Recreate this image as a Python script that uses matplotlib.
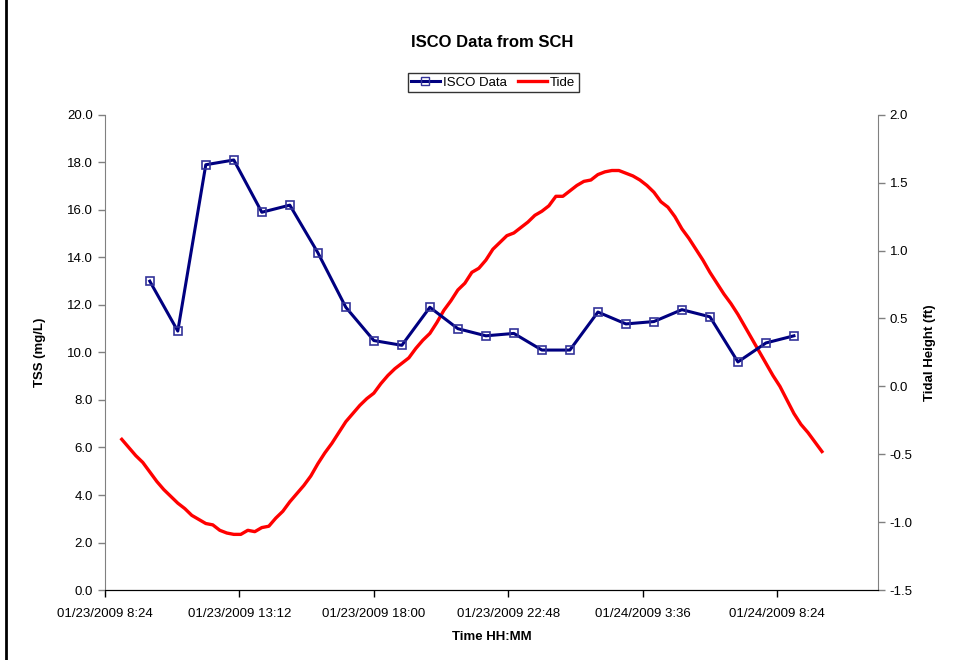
import numpy as np
import pandas as pd
import matplotlib
matplotlib.use("Agg")
import matplotlib.pyplot as plt
from matplotlib.lines import Line2D

plt.rcParams['font.family'] = ['Liberation Sans', 'DejaVu Sans']

# ISCO samples, hourly from 01/23/2009 10:00
isco_times = pd.date_range("2009-01-23 10:00", periods=24, freq="h")
isco_tss = [13.0, 10.9, 17.9, 18.1, 15.9, 16.2, 14.2, 11.9, 10.5, 10.3, 11.9, 11.0,
            10.7, 10.8, 10.1, 10.1, 11.7, 11.2, 11.3, 11.8, 11.5, 9.6, 10.4, 10.7]

# tide, every 15 min from 01/23/2009 9:00
tide_times = pd.date_range("2009-01-23 09:00", periods=101, freq="15min")
tide_ft = [-0.39, -0.45, -0.51, -0.56, -0.63, -0.70, -0.76, -0.81, -0.86, -0.90,
           -0.95, -0.98, -1.01, -1.02, -1.06, -1.08, -1.09, -1.09, -1.06, -1.07,
           -1.04, -1.03, -0.97, -0.92, -0.85, -0.79, -0.73, -0.66, -0.57, -0.49,
           -0.42, -0.34, -0.26, -0.20, -0.14, -0.09, -0.05, 0.02, 0.08, 0.13,
           0.17, 0.21, 0.28, 0.34, 0.39, 0.47, 0.56, 0.63, 0.71, 0.76,
           0.84, 0.87, 0.93, 1.01, 1.06, 1.11, 1.13, 1.17, 1.21, 1.26,
           1.29, 1.33, 1.40, 1.40, 1.44, 1.48, 1.51, 1.52, 1.56, 1.58,
           1.59, 1.59, 1.57, 1.55, 1.52, 1.48, 1.43, 1.36, 1.32, 1.25,
           1.16, 1.09, 1.01, 0.93, 0.84, 0.76, 0.68, 0.61, 0.53, 0.44,
           0.35, 0.26, 0.17, 0.08, 0.00, -0.10, -0.20, -0.28, -0.34, -0.41,
           -0.48]

xticks = pd.date_range("2009-01-23 08:24", periods=6, freq="288min")

fig = plt.figure(figsize=(9.63, 6.6), dpi=100)
ax = fig.add_axes([0.109, 0.106, 0.8027, 0.72])
ax2 = ax.twinx()

ax.plot(isco_times, isco_tss, color='#000080', lw=2.2, marker='s', ms=6,
        mfc='none', mec='#333399', mew=1.2, zorder=3)
ax2.plot(tide_times, tide_ft, color='#ff0000', lw=2.4)

ax.set_zorder(ax2.get_zorder() + 1)
ax.patch.set_visible(False)

ax.set_xlim(pd.Timestamp("2009-01-23 08:24"), pd.Timestamp("2009-01-24 12:00"))
ax.set_ylim(0, 20)
ax2.set_ylim(-1.5, 2.0)
ax.set_yticks(np.arange(0, 20.1, 2))
ax.yaxis.set_major_formatter(matplotlib.ticker.FormatStrFormatter('%.1f'))
ax2.set_yticks(np.arange(-1.5, 2.01, 0.5))
ax2.yaxis.set_major_formatter(matplotlib.ticker.FormatStrFormatter('%.1f'))
ax.set_xticks(xticks)
ax.set_xticklabels([t.strftime("%m/%d/%Y ") + str(t.hour) + t.strftime(":%M") for t in xticks])

for a in (ax, ax2):
    a.spines['top'].set_visible(False)
    a.spines['left'].set_color('#808080')
    a.spines['right'].set_color('#808080')
    a.spines['bottom'].set_color('black')
    a.tick_params(labelsize=9.5, length=5, width=1, colors='black')
ax.spines['right'].set_visible(False)
ax2.spines['left'].set_visible(False)
ax.tick_params(axis='y', color='#808080')
ax2.tick_params(axis='y', color='#808080')
ax.tick_params(axis='x', pad=8)

ax.set_ylabel("TSS (mg/L)", fontsize=9.5, fontweight='bold', labelpad=15)
ax2.set_ylabel("Tidal Height (ft)", fontsize=9.5, fontweight='bold', labelpad=8)
ax.set_xlabel("Time HH:MM", fontsize=9.5, fontweight='bold', labelpad=8)
fig.text(0.511, 0.936, "ISCO Data from SCH", ha='center', va='center',
         fontsize=12, fontweight='bold')

handles = [Line2D([], [], color='#000080', lw=2.2, marker='s', ms=6, mfc='none', mec='#333399'),
           Line2D([], [], color='#ff0000', lw=2.4)]
leg = fig.legend(handles, ["ISCO Data", "Tide"], loc='center', bbox_to_anchor=(0.512, 0.875),
                 ncol=2, fontsize=9.5, frameon=True, fancybox=False, handlelength=2.2,
                 handletextpad=0.2, columnspacing=0.9, borderpad=0.25)
leg.get_frame().set_edgecolor('black')
leg.get_frame().set_linewidth(1.0)

fig.add_artist(Line2D([0.0065, 0.0065], [0, 1], color='black', lw=2, transform=fig.transFigure))

fig.savefig("out.png", dpi=100)
